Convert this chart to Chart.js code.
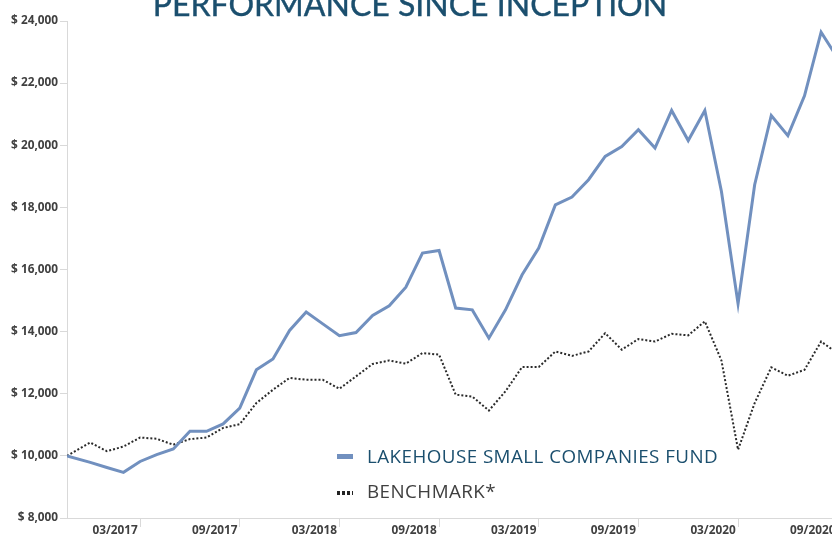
<!DOCTYPE html>
<html>
<head>
<meta charset="utf-8">
<script src="https://cdn.jsdelivr.net/npm/chart.js@4.4.0/dist/chart.umd.min.js"></script>
<style>
  body { margin: 0; background: #fff; }
  #wrap { position: relative; width: 832px; height: 535px; overflow: hidden; background: #fff; }
  #box { position: absolute; left: 0; top: 0; width: 900px; height: 535px; }
  #title {
    position: absolute; left: 0; width: 820px; top: -11px; text-align: center;
    font-family: Lato, sans-serif; font-size: 32px; line-height: 30px;
    color: #1b4f6e; white-space: nowrap; -webkit-text-stroke: 0.4px #1b4f6e;
  }
  #legend { position: absolute; left: 337px; top: 444px; font-family: "Open Sans", sans-serif; }
  .item { position: relative; height: 35px; }
  .mark { position: absolute; left: 0; width: 16px; }
  .txt { position: absolute; left: 30px; top: 0; font-size: 18.8px; letter-spacing: 0.45px; line-height: 24px; white-space: nowrap; }
</style>
</head>
<body>
<div id="wrap">
  <div id="box"><canvas id="perfChart"></canvas></div>
  <div id="title">PERFORMANCE SINCE INCEPTION</div>
  <div id="legend"></div>
</div>
<script>
// Dates of each value: inception, then month ends
const dates = [
  '2016-11-18', '2016-12',
  '2017-01', '2017-02', '2017-03', '2017-04', '2017-05', '2017-06',
  '2017-07', '2017-08', '2017-09', '2017-10', '2017-11', '2017-12',
  '2018-01', '2018-02', '2018-03', '2018-04', '2018-05', '2018-06',
  '2018-07', '2018-08', '2018-09', '2018-10', '2018-11', '2018-12',
  '2019-01', '2019-02', '2019-03', '2019-04', '2019-05', '2019-06',
  '2019-07', '2019-08', '2019-09', '2019-10', '2019-11', '2019-12',
  '2020-01', '2020-02', '2020-03', '2020-04', '2020-05', '2020-06',
  '2020-07', '2020-08', '2020-09'
];

// Growth of $10,000
const fundValues = [
  10000, 9790,
  9625, 9470, 9820, 10040, 10220, 10790,
  10790, 11030, 11540, 12770, 13120, 14040,
  14630, 14250, 13870, 13970, 14520, 14830,
  15430, 16530, 16610, 14760, 14700, 13790,
  14700, 15830, 16690, 18080, 18330, 18890,
  19640, 19960, 20500, 19910, 21120, 20150,
  21120, 18510, 14900, 18730, 20960, 20310,
  21590, 23640, 22800
];
const benchmarkValues = [
  10000, 10430,
  10150, 10300, 10590, 10550, 10360, 10540,
  10590, 10900, 11020, 11700, 12130, 12510,
  12450, 12450, 12160, 12560, 12960, 13070,
  12970, 13310, 13260, 11970, 11910, 11460,
  12080, 12860, 12860, 13360, 13220, 13360,
  13950, 13420, 13760, 13680, 13930, 13880,
  14330, 13070, 10200, 11700, 12850, 12580,
  12770, 13680, 13300
];

const xTickLabels = ['03/2017', '09/2017', '03/2018', '09/2018', '03/2019', '09/2019', '03/2020', '09/2020'];

// Month position, 0 = end of March 2017
function monthPos(s) {
    const p = s.split('-').map(Number);
    const y = p[0], m = p[1];
    if (p.length < 3) return (y - 2017) * 12 + (m - 3);
    const dim = new Date(y, m, 0).getDate();
    return (y - 2017) * 12 + (m - 4) + p[2] / dim;
}
function labelPos(l) {
    const [m, y] = l.split('/');
    return monthPos(y + '-' + m);
}

const xs = dates.map(monthPos);
const tickMonths = xTickLabels.map(labelPos);

const axisFont = { family: '"Open Sans", sans-serif', size: 11.8, weight: 'bold' };

const ctx = document.getElementById('perfChart').getContext('2d');
const perfChart = new Chart(ctx, {
    type: 'line',
    data: {
        datasets: [{
            label: 'LAKEHOUSE SMALL COMPANIES FUND',
            data: fundValues.map((v, i) => ({ x: xs[i], y: v })),
            borderColor: '#7190bf',
            borderWidth: 3,
            textColor: '#1b4f6e'
        }, {
            label: 'BENCHMARK*',
            data: benchmarkValues.map((v, i) => ({ x: xs[i], y: v })),
            borderColor: '#2a2a2a',
            borderWidth: 2,
            borderDash: [2, 2],
            textColor: '#404040'
        }]
    },
    options: {
        responsive: true,
        maintainAspectRatio: false,
        animation: false,
        layout: { padding: { top: 21, right: 0, bottom: 0, left: 0 } },
        elements: { point: { radius: 0 }, line: { tension: 0 } },
        plugins: { legend: { display: false }, tooltip: { enabled: false } },
        scales: {
            x: {
                type: 'linear',
                min: xs[0],
                max: xs[0] + 50.15,
                afterBuildTicks: axis => { axis.ticks = tickMonths.map(v => ({ value: v })); },
                afterFit: s => { s.height = 17; },
                grid: { drawOnChartArea: false, tickLength: 9, color: '#d9d9d9' },
                border: { color: '#d9d9d9' },
                ticks: {
                    autoSkip: false, maxRotation: 0, labelOffset: -25, padding: -3,
                    color: '#404040', font: axisFont,
                    callback: (v, i) => xTickLabels[i]
                }
            },
            y: {
                min: 8000,
                max: 24000,
                afterFit: s => { s.width = 67; },
                grid: { drawOnChartArea: false, tickLength: 7, color: '#d9d9d9' },
                border: { color: '#d9d9d9' },
                ticks: {
                    stepSize: 2000, padding: 2, color: '#404040', font: axisFont,
                    callback: v => '$ ' + v.toLocaleString('en-US')
                }
            }
        }
    }
});

// Legend inside the plot, built from the datasets
const legend = document.getElementById('legend');
perfChart.data.datasets.forEach(ds => {
    const item = document.createElement('div');
    item.className = 'item';
    const mark = document.createElement('span');
    mark.className = 'mark';
    if (ds.borderDash) {
        mark.style.top = '12px';
        mark.style.height = '4px';
        mark.style.background = 'repeating-linear-gradient(90deg, #222 0 3px, transparent 3px 5px)';
    } else {
        mark.style.top = '10px';
        mark.style.height = '5px';
        mark.style.background = ds.borderColor;
    }
    const txt = document.createElement('span');
    txt.className = 'txt';
    txt.style.color = ds.textColor;
    txt.textContent = ds.label;
    item.appendChild(mark);
    item.appendChild(txt);
    legend.appendChild(item);
});
</script>
</body>
</html>
